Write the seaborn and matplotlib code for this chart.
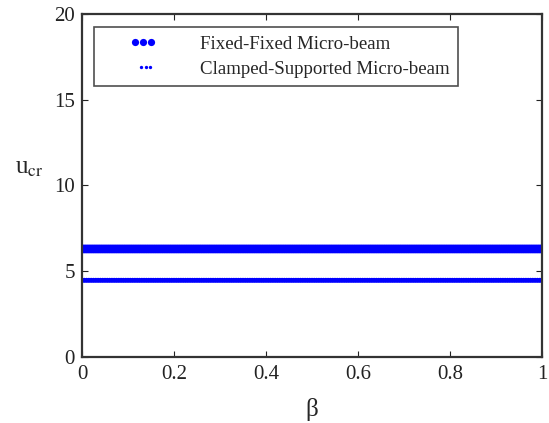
import numpy as np
import pandas as pd
import matplotlib
matplotlib.use("Agg")
import matplotlib.pyplot as plt
from matplotlib.lines import Line2D
from matplotlib.legend_handler import HandlerLine2D
import seaborn as sns

beta = np.linspace(0, 1, 201)
fixed_fixed = [6.3] * len(beta)
clamped_supported = [4.47] * len(beta)
series_names = ["Fixed-Fixed Micro-beam", "Clamped-Supported Micro-beam"]

df = pd.concat([
    pd.DataFrame({"beta": beta, "u": fixed_fixed, "case": series_names[0]}),
    pd.DataFrame({"beta": beta, "u": clamped_supported, "case": series_names[1]}),
])

sns.set_theme(style="white")
plt.rcParams["font.family"] = ["Liberation Serif", "DejaVu Serif"]
plt.rcParams["mathtext.fontset"] = "stix"

fig = plt.figure(figsize=(5.49, 4.23), dpi=100)
ax = fig.add_axes([82/549, 1 - 357/423, 460/549, 343/423])

sizes = {series_names[0]: 40, series_names[1]: 13}
for name in series_names:
    sub = df[df["case"] == name]
    sns.scatterplot(data=sub, x="beta", y="u", ax=ax, color="#0000ff",
                    s=sizes[name], edgecolor="none", linewidth=0, legend=False)

ax.set_xlim(0, 1)
ax.set_ylim(0, 20)
ax.set_xticks([0, 0.2, 0.4, 0.6, 0.8, 1])
ax.set_xticklabels(["0", "0.2", "0.4", "0.6", "0.8", "1"])
ax.set_yticks([0, 5, 10, 15, 20])
ax.tick_params(direction="in", length=4, width=0.8, labelsize=15, colors="#222222",
               top=True, right=True, bottom=True, left=True)
ax.tick_params(axis="x", pad=6)
ax.tick_params(axis="y", pad=5)
for sp in ax.spines.values():
    sp.set_color("#333333")
    sp.set_linewidth(1.6)

ax.set_xlabel("β", fontsize=18, labelpad=10)
ax.set_ylabel("u$_{\\mathrm{cr}}$", fontsize=18, rotation=0)
ax.yaxis.set_label_coords(-0.115, 0.52)


class CenterDots(HandlerLine2D):
    def __init__(self, frac, gap, **kw):
        super().__init__(**kw)
        self.frac = frac
        self.gap = gap

    def get_xdata(self, legend, xdescent, ydescent, width, height, fontsize):
        c = -xdescent + width * self.frac
        xd = np.array([c - self.gap, c, c + self.gap])
        return xd, xd


h_fixed = Line2D([], [], linestyle="none", marker="o", markersize=5.2,
                 markerfacecolor="#0000ff", markeredgecolor="none")
h_clamp = Line2D([], [], linestyle="none", marker="o", markersize=2.4,
                 markerfacecolor="#0000ff", markeredgecolor="none")
leg = ax.legend([h_fixed, h_clamp], series_names, loc="upper left",
                bbox_to_anchor=(0.026, 0.962), borderaxespad=0,
                fontsize=13.6, frameon=True, fancybox=False, edgecolor="#222222",
                handlelength=3.0, handletextpad=2.15,
                borderpad=0.45, labelspacing=0.4,
                handler_map={h_fixed: CenterDots(0.71, 5.8, numpoints=3),
                             h_clamp: CenterDots(0.76, 3.3, numpoints=3)})
leg.get_frame().set_linewidth(1.2)

fig.savefig("out.png", dpi=100)
